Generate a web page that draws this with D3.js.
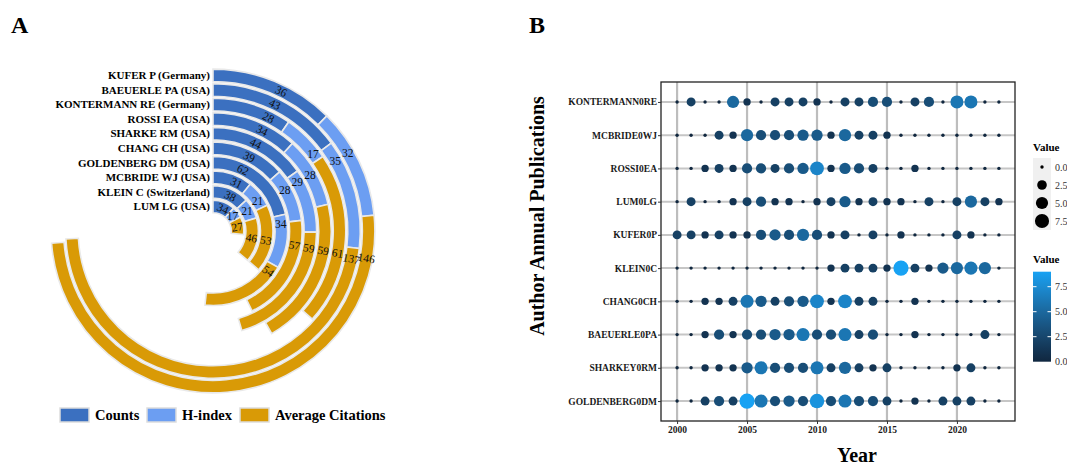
<!DOCTYPE html>
<html>
<head>
<meta charset="utf-8">
<script src="https://cdn.jsdelivr.net/npm/d3@7"></script>
<style>
  body { margin: 0; background: #fff; }
  svg { display: block; }
  text { font-family: "Liberation Serif", "Times New Roman", serif; }
</style>
</head>
<body>
<svg id="chart" width="1067" height="468"></svg>
<script>
// ---- panel A data (outer ring first) ----
const arcAuthors = ["KUFER P (Germany)", "BAEUERLE PA (USA)", "KONTERMANN RE (Germany)", "ROSSI EA (USA)",
    "SHARKE RM (USA)", "CHANG CH (USA)", "GOLDENBERG DM (USA)", "MCBRIDE WJ (USA)",
    "KLEIN C (Switzerland)", "LUM LG (USA)"];
const counts = [36, 43, 28, 34, 44, 39, 62, 31, 38, 34];
const hIndex = [32, 35, 17, 28, 29, 28, 34, 21, 21, 17];
const avgCitations = [146, 137, 61, 59, 59, 57, 54, 53, 46, 27];
const metricNames = ["Counts", "H-index", "Average Citations"];
const metricColors = ["#3b70c0", "#6c9ef2", "#d99a06"];

// ---- panel B data (2000..2023) ----
const years = [2000, 2001, 2002, 2003, 2004, 2005, 2006, 2007, 2008, 2009, 2010, 2011,
    2012, 2013, 2014, 2015, 2016, 2017, 2018, 2019, 2020, 2021, 2022, 2023];
const yearTicks = [2000, 2005, 2010, 2015, 2020];
const pubAuthors = ["KONTERMANN0RE", "MCBRIDE0WJ", "ROSSI0EA", "LUM0LG", "KUFER0P",
    "KLEIN0C", "CHANG0CH", "BAEUERLE0PA", "SHARKEY0RM", "GOLDENBERG0DM"];
const kontermann = [0, 2, 0, 0, 5, 1, 0, 2, 2, 2, 1, 0, 2, 2, 3, 3, 0, 2, 3, 0, 6, 6, 0, 0];
const mcbride    = [0, 0, 0, 2, 1, 5, 3, 3, 3, 4, 4, 1, 5, 2, 2, 1, 0, 0, 0, 0, 0, 0, 0, 0];
const rossi      = [0, 0, 1, 2, 1, 3, 3, 2, 3, 4, 7, 1, 4, 3, 2, 0, 0, 1, 0, 0, 0, 0, 0, 0];
const lum        = [0, 2, 0, 0, 1, 2, 3, 1, 1, 0, 1, 2, 4, 1, 2, 1, 1, 0, 2, 0, 2, 5, 2, 1];
const kufer      = [2, 2, 1, 2, 1, 1, 3, 4, 3, 5, 3, 1, 2, 0, 2, 0, 1, 0, 0, 0, 2, 1, 0, 0];
const klein      = [0, 0, 0, 0, 0, 0, 0, 0, 0, 0, 0, 1, 2, 2, 2, 1, 9, 2, 1, 4, 5, 6, 5, 0];
const chang      = [0, 0, 1, 1, 2, 6, 4, 2, 3, 4, 7, 1, 7, 2, 2, 0, 0, 1, 0, 0, 0, 0, 0, 0];
const baeuerle   = [0, 0, 1, 3, 1, 3, 3, 4, 4, 6, 3, 3, 6, 2, 3, 0, 0, 1, 0, 0, 0, 0, 2, 0];
const sharkey    = [0, 0, 1, 1, 1, 4, 6, 3, 3, 3, 6, 2, 5, 2, 1, 2, 0, 0, 0, 0, 1, 2, 0, 0];
const goldenberg = [0, 0, 2, 3, 2, 9, 6, 3, 4, 3, 8, 3, 6, 3, 3, 2, 0, 1, 0, 2, 2, 2, 0, 0];
const pubSeries = [kontermann, mcbride, rossi, lum, kufer, klein, chang, baeuerle, sharkey, goldenberg];
const legendValues = [0, 2.5, 5, 7.5];

const svg = d3.select("#chart");

// panel letters
svg.append("text").attr("x", 11).attr("y", 33).text("A")
    .style("font-size", "24px").style("font-weight", "bold");
svg.append("text").attr("x", 529).attr("y", 33).text("B")
    .style("font-size", "24px").style("font-weight", "bold");

// ================= panel A =================
const cx = 213, cy = 231;
const gA = svg.append("g").attr("transform", `translate(${cx},${cy})`);

const ringScale = d3.scaleBand()
    .domain(arcAuthors.slice().reverse())
    .range([17.3, 162.9])
    .paddingInner(0.14)
    .paddingOuter(0.07);
const angleScale = d3.scaleLinear().domain([0, 290]).range([0, 2 * Math.PI]);

const arcRows = arcAuthors.map((name, i) => {
    let vals = [counts[i], hIndex[i], avgCitations[i]];
    let start = 0;
    let segs = vals.map((v, k) => {
        let s = {name: name, k: k, value: v, start: start, end: start + v};
        start += v;
        return s;
    });
    return {name: name, segs: segs};
});

const arcGen = d3.arc();
const fixedAngle = [26, 60, 100];   // preferred label angle per metric (deg)

arcRows.forEach(row => {
    let r0 = ringScale(row.name);
    let r1 = r0 + ringScale.bandwidth();
    let rm = (r0 + r1) / 2;

    gA.selectAll(null).data(row.segs).enter()
        .append("path")
        .attr("d", d => arcGen({
            innerRadius: r0, outerRadius: r1,
            startAngle: angleScale(d.start), endAngle: angleScale(d.end)
        }))
        .attr("fill", d => metricColors[d.k])
        .attr("stroke", "#e9e9e9")
        .attr("stroke-width", 1.6);

    row.segs.forEach(d => {
        let a0 = angleScale(d.start) * 180 / Math.PI;
        let a1 = angleScale(d.end) * 180 / Math.PI;
        let pad = (String(d.value).length * 3 + 2) / rm * 180 / Math.PI;
        let lo = a0 + pad, hi = a1 - pad;
        let a = lo > hi ? (a0 + a1) / 2 : Math.max(lo, Math.min(hi, fixedAngle[d.k]));
        let rad = a * Math.PI / 180;
        let x = rm * Math.sin(rad), y = -rm * Math.cos(rad);
        let rot = d.k === 0 ? a : (d.k === 2 ? a - 90 : 0);
        gA.append("text")
            .attr("transform", `translate(${x},${y}) rotate(${rot})`)
            .attr("text-anchor", "middle")
            .attr("dy", "0.35em")
            .style("font-size", "11.5px")
            .attr("fill", "#111")
            .text(d.value);
    });

    gA.append("text")
        .attr("x", -3)
        .attr("y", -rm)
        .attr("dy", "0.35em")
        .attr("text-anchor", "end")
        .style("font-size", "11px")
        .style("font-weight", "bold")
        .text(row.name);
});

// legend A
const legA = svg.append("g").attr("transform", "translate(60,408)");
const legX = [0, 87, 180];
metricNames.forEach((m, i) => {
    legA.append("rect").attr("x", legX[i]).attr("y", 0).attr("width", 29).attr("height", 14)
        .attr("fill", metricColors[i]).attr("stroke", "#dddddd").attr("stroke-width", 1.5);
    legA.append("text").attr("x", legX[i] + 35).attr("y", 12)
        .style("font-size", "14.5px").style("font-weight", "bold").text(m);
});

// ================= panel B =================
const pL = 661, pR = 1015, pT = 82, pB = 421;
const x = d3.scaleLinear().domain([1998.85, 2024.15]).range([pL, pR]);
const y = d3.scalePoint().domain(pubAuthors).range([pT, pB]).padding(0.6);
const rScale = d3.scaleSqrt().domain([0, 9]).range([1.7, 7.6]);
const colorScale = d3.scaleLinear().domain([0, 9]).range(["#10273f", "#18a2f3"])
    .interpolate(d3.interpolateLab);

const gB = svg.append("g");

// grid
gB.selectAll(".vgrid").data(yearTicks).enter().append("line")
    .attr("x1", d => x(d)).attr("x2", d => x(d))
    .attr("y1", pT).attr("y2", pB)
    .attr("stroke", "#bdbdbd").attr("stroke-width", 2.2);
gB.selectAll(".hgrid").data(pubAuthors).enter().append("line")
    .attr("x1", pL).attr("x2", pR)
    .attr("y1", d => y(d)).attr("y2", d => y(d))
    .attr("stroke", "#c6c6c6").attr("stroke-width", 2);

// dots
const dots = [];
pubAuthors.forEach((a, i) => {
    years.forEach((yr, j) => dots.push({author: a, year: yr, value: pubSeries[i][j]}));
});
gB.selectAll("circle.dot").data(dots).enter().append("circle")
    .attr("class", "dot")
    .attr("cx", d => x(d.year))
    .attr("cy", d => y(d.author))
    .attr("r", d => rScale(d.value))
    .attr("fill", d => colorScale(d.value));

// frame
gB.append("rect").attr("x", pL).attr("y", pT).attr("width", pR - pL).attr("height", pB - pT)
    .attr("fill", "none").attr("stroke", "#222").attr("stroke-width", 1.3);

// axes
const xAxis = gB.append("g").attr("transform", `translate(0,${pB})`)
    .call(d3.axisBottom(x).tickValues(yearTicks).tickFormat(d3.format("d")).tickSize(3).tickPadding(2));
const yAxis = gB.append("g").attr("transform", `translate(${pL},0)`)
    .call(d3.axisLeft(y).tickSize(3).tickPadding(1));
[xAxis, yAxis].forEach(g => {
    g.select(".domain").remove();
    g.selectAll("line").attr("stroke", "#333");
    g.selectAll("text").attr("fill", "#1a1a1a")
        .style("font-family", "'Liberation Serif', serif")
        .style("font-weight", "bold");
});
xAxis.selectAll("text").style("font-size", "9.5px");
yAxis.selectAll("text").style("font-size", "9.5px");

svg.append("text")
    .attr("transform", "translate(544,216) rotate(-90)")
    .attr("text-anchor", "middle")
    .style("font-size", "20px").style("font-weight", "bold")
    .text("Author Annual Publications");
svg.append("text")
    .attr("x", 857).attr("y", 462)
    .attr("text-anchor", "middle")
    .style("font-size", "20px").style("font-weight", "bold")
    .text("Year");

// size legend
const legS = svg.append("g").attr("transform", "translate(1033,0)");
legS.append("text").attr("x", 0).attr("y", 151).style("font-size", "11px")
    .style("font-weight", "bold").text("Value");
legS.append("rect").attr("x", 0).attr("y", 158).attr("width", 18).attr("height", 72).attr("fill", "#f0f0f0");
const sizeY = d3.scalePoint().domain(legendValues).range([167, 221]);
legS.selectAll(".sk").data(legendValues).enter().append("circle")
    .attr("cx", 9).attr("cy", d => sizeY(d)).attr("r", d => rScale(d)).attr("fill", "#000");
legS.selectAll(".sl").data(legendValues).enter().append("text")
    .attr("x", 22).attr("y", d => sizeY(d)).attr("dy", "0.35em")
    .style("font-size", "10px").attr("fill", "#333").text(d3.format(".1f"));

// colour bar legend
const barTop = 271.7, barBot = 361.7;
const barScale = d3.scaleLinear().domain([0, 9]).range([barBot, barTop]);
const defs = svg.append("defs");
const grad = defs.append("linearGradient").attr("id", "cbar")
    .attr("x1", 0).attr("y1", 1).attr("x2", 0).attr("y2", 0);
d3.range(0, 9.01, 0.5).forEach(v => {
    grad.append("stop").attr("offset", v / 9).attr("stop-color", colorScale(v));
});
legS.append("text").attr("x", 0).attr("y", 263).style("font-size", "11px")
    .style("font-weight", "bold").text("Value");
legS.append("rect").attr("x", 0).attr("y", barTop).attr("width", 18).attr("height", barBot - barTop)
    .attr("fill", "url(#cbar)");
legendValues.slice(1).forEach(v => {
    legS.append("line").attr("x1", 0).attr("x2", 3.5).attr("y1", barScale(v)).attr("y2", barScale(v))
        .attr("stroke", "#fff").attr("stroke-width", 1);
    legS.append("line").attr("x1", 14.5).attr("x2", 18).attr("y1", barScale(v)).attr("y2", barScale(v))
        .attr("stroke", "#fff").attr("stroke-width", 1);
});
legS.selectAll(".cl").data(legendValues).enter().append("text")
    .attr("x", 22).attr("y", d => barScale(d)).attr("dy", "0.35em")
    .style("font-size", "10px").attr("fill", "#333").text(d3.format(".1f"));
</script>
</body>
</html>
